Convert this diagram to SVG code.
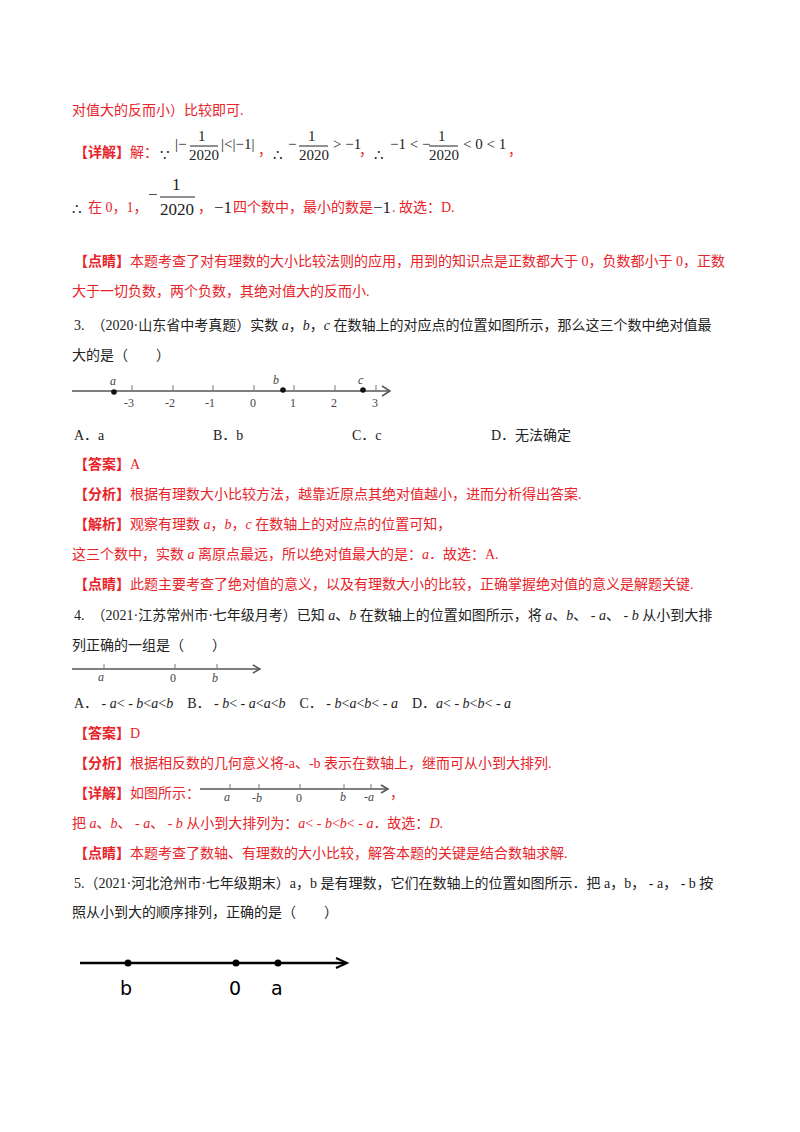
<svg xmlns="http://www.w3.org/2000/svg" width="800" height="1132" viewBox="0 0 800 1132">
<style>
text{font-family:"Liberation Serif","Noto Sans CJK SC",serif;font-size:14px;fill:#222}
.r{fill:#e8232a}
.b{font-weight:bold}
.m{font-family:"Liberation Serif",serif;font-size:15px;fill:#222}
.i{font-style:italic}
.ax{stroke:#555;stroke-width:1.5;fill:none}
.tk{stroke:#777;stroke-width:1}
.sm{font-size:12px;fill:#444}
</style>
<rect width="800" height="1132" fill="#fff"/>
<text class="r" x="72" y="115">对值大的反而小）比较即可.</text>
<text class="r" x="74" y="157"><tspan class="b">【详解】</tspan>解：</text>
<text class="m" x="160" y="160">∵</text>
<text class="m" x="175" y="149">|−</text><text class="m" x="198" y="141">1</text><line x1="190" y1="146" x2="218" y2="146" stroke="#222"/><text class="m" x="189" y="160">2020</text><text class="m" x="221" y="149">|&lt;|−1|</text>
<text class="r" x="258" y="155">，</text>
<text class="m" x="273" y="160">∴</text>
<text class="m" x="288" y="149">−</text><text class="m" x="308" y="141">1</text><line x1="299" y1="146" x2="328" y2="146" stroke="#222"/><text class="m" x="299" y="160">2020</text><text class="m" x="333" y="149">&gt; −1</text>
<text class="r" x="359" y="155">，</text>
<text class="m" x="374" y="160">∴</text>
<text class="m" x="390" y="149">−1 &lt; −</text><text class="m" x="438" y="141">1</text><line x1="429" y1="146" x2="458" y2="146" stroke="#222"/><text class="m" x="429" y="160">2020</text><text class="m" x="463" y="149">&lt; 0 &lt; 1</text>
<text class="r" x="508" y="155">，</text>
<text class="m" x="72" y="214">∴</text>
<text class="r" x="88" y="212">在 0，1，</text>
<text class="m" x="148" y="200" style="font-size:17px">−</text><text class="m" x="172" y="190" style="font-size:17px">1</text><line x1="160" y1="197" x2="195" y2="197" stroke="#222"/><text class="m" x="160" y="215" style="font-size:17px">2020</text>
<text class="r" x="198" y="212">，</text><text class="m" x="214" y="213" style="font-size:17px">−1</text>
<text class="r" x="233" y="212">四个数中，最小的数是</text><text class="m" x="373" y="213" style="font-size:17px">−1</text><text class="r" x="392" y="212">. 故选：D.</text>
<text class="r" x="74" y="266"><tspan class="b">【点睛】</tspan>本题考查了对有理数的大小比较法则的应用，用到的知识点是正数都大于 0，负数都小于 0，正数</text>
<text class="r" x="72" y="296">大于一切负数，两个负数，其绝对值大的反而小.</text>
<text x="74" y="330">3.　（2020·山东省中考真题）实数 <tspan class="i">a</tspan>，<tspan class="i">b</tspan>，<tspan class="i">c</tspan> 在数轴上的对应点的位置如图所示，那么这三个数中绝对值最</text>
<text x="72" y="360">大的是（　　）</text>
<g id="axis1">
<line class="ax" x1="72" y1="391" x2="390" y2="391"/><path class="ax" d="M382 386 L390 391 L382 396"/>
<g class="tk"><line x1="132" y1="385" x2="132" y2="391"/><line x1="173" y1="385" x2="173" y2="391"/><line x1="213" y1="385" x2="213" y2="391"/><line x1="254" y1="385" x2="254" y2="391"/><line x1="294" y1="385" x2="294" y2="391"/><line x1="335" y1="385" x2="335" y2="391"/><line x1="376" y1="385" x2="376" y2="391"/></g>
<text class="sm" x="124" y="407">-3</text><text class="sm" x="165" y="407">-2</text><text class="sm" x="205" y="407">-1</text><text class="sm" x="250" y="407">0</text><text class="sm" x="290" y="407">1</text><text class="sm" x="331" y="407">2</text><text class="sm" x="372" y="407">3</text>
<circle cx="114" cy="392" r="2.8" fill="#111"/><circle cx="283" cy="390" r="2.8" fill="#111"/><circle cx="363" cy="390" r="2.8" fill="#111"/>
<text class="sm i" x="110" y="385">a</text><text class="sm i" x="273" y="384">b</text><text class="sm i" x="358" y="384">c</text>
</g>
<text x="74" y="440">A．a</text><text x="213" y="440">B．b</text><text x="352" y="440">C．c</text><text x="491" y="440">D．无法确定</text>
<text class="r b" x="74" y="469">【答案】<tspan style="font-weight:normal">A</tspan></text>
<text class="r" x="74" y="499"><tspan class="b">【分析】</tspan>根据有理数大小比较方法，越靠近原点其绝对值越小，进而分析得出答案.</text>
<text class="r" x="74" y="529"><tspan class="b">【解析】</tspan>观察有理数 <tspan class="i">a</tspan>，<tspan class="i">b</tspan>，<tspan class="i">c</tspan> 在数轴上的对应点的位置可知，</text>
<text class="r" x="72" y="559">这三个数中，实数 <tspan class="i">a</tspan> 离原点最远，所以绝对值最大的是：<tspan class="i">a</tspan>．故选：A.</text>
<text class="r" x="74" y="589"><tspan class="b">【点睛】</tspan>此题主要考查了绝对值的意义，以及有理数大小的比较，正确掌握绝对值的意义是解题关键.</text>
<text x="74" y="620">4.　（2021·江苏常州市·七年级月考）已知 <tspan class="i">a</tspan>、<tspan class="i">b</tspan> 在数轴上的位置如图所示，将 <tspan class="i">a</tspan>、<tspan class="i">b</tspan>、 - <tspan class="i">a</tspan>、 - <tspan class="i">b</tspan> 从小到大排</text>
<text x="72" y="650">列正确的一组是（　　）</text>
<g id="axis2">
<line class="ax" x1="72" y1="669" x2="260" y2="669"/><path class="ax" d="M253 665 L260 669 L253 673"/>
<g class="tk"><line x1="104" y1="664" x2="104" y2="669"/><line x1="175" y1="664" x2="175" y2="669"/><line x1="217" y1="664" x2="217" y2="669"/></g>
<text class="sm i" x="98" y="681">a</text><text class="sm" x="170" y="682">0</text><text class="sm i" x="212" y="682">b</text>
</g>
<text x="74" y="708">A．  - <tspan class="i">a</tspan>&lt; - <tspan class="i">b</tspan>&lt;<tspan class="i">a</tspan>&lt;<tspan class="i">b</tspan>　B．  - <tspan class="i">b</tspan>&lt; - <tspan class="i">a</tspan>&lt;<tspan class="i">a</tspan>&lt;<tspan class="i">b</tspan>　C．  - <tspan class="i">b</tspan>&lt;<tspan class="i">a</tspan>&lt;<tspan class="i">b</tspan>&lt; - <tspan class="i">a</tspan>　D．<tspan class="i">a</tspan>&lt; - <tspan class="i">b</tspan>&lt;<tspan class="i">b</tspan>&lt; - <tspan class="i">a</tspan></text>
<text class="r b" x="74" y="738">【答案】<tspan style="font-weight:normal">D</tspan></text>
<text class="r" x="74" y="768"><tspan class="b">【分析】</tspan>根据相反数的几何意义将-a、-b 表示在数轴上，继而可从小到大排列.</text>
<text class="r" x="74" y="798"><tspan class="b">【详解】</tspan>如图所示：</text>
<g id="axis3">
<line class="ax" x1="200" y1="789" x2="388" y2="789"/><path class="ax" d="M381 785 L388 789 L381 793"/>
<g class="tk"><line x1="230" y1="784" x2="230" y2="789"/><line x1="259" y1="784" x2="259" y2="789"/><line x1="300" y1="784" x2="300" y2="789"/><line x1="344" y1="784" x2="344" y2="789"/><line x1="371" y1="784" x2="371" y2="789"/></g>
<text class="sm i" x="224" y="801">a</text><text class="sm i" x="252" y="802">-b</text><text class="sm" x="296" y="802">0</text><text class="sm i" x="340" y="801">b</text><text class="sm i" x="364" y="801">-a</text>
</g>
<text class="r" x="390" y="798">，</text>
<text class="r" x="72" y="828">把 <tspan class="i">a</tspan>、<tspan class="i">b</tspan>、 - <tspan class="i">a</tspan>、 - <tspan class="i">b</tspan> 从小到大排列为：<tspan class="i">a</tspan>&lt; - <tspan class="i">b</tspan>&lt;<tspan class="i">b</tspan>&lt; - <tspan class="i">a</tspan>．故选：<tspan class="i">D</tspan>.</text>
<text class="r" x="74" y="858"><tspan class="b">【点睛】</tspan>本题考查了数轴、有理数的大小比较，解答本题的关键是结合数轴求解.</text>
<text x="74" y="888">5.（2021·河北沧州市·七年级期末）a，b 是有理数，它们在数轴上的位置如图所示．把 a，b， - a， - b 按</text>
<text x="72" y="917">照从小到大的顺序排列，正确的是（　　）</text>
<g id="axis4">
<line x1="80" y1="963" x2="346" y2="963" stroke="#000" stroke-width="2.5"/><path d="M336 958 L347 963 L336 968" stroke="#000" stroke-width="2" fill="none"/>
<circle cx="128" cy="963" r="3.5" fill="#000"/><circle cx="236" cy="963" r="3.5" fill="#000"/><circle cx="278" cy="963" r="3.5" fill="#000"/>
<text x="120" y="995" style="font-family:'DejaVu Sans',sans-serif;font-size:19px;fill:#000">b</text>
<text x="229" y="995" style="font-family:'DejaVu Sans',sans-serif;font-size:19px;fill:#000">0</text>
<text x="271" y="995" style="font-family:'DejaVu Sans',sans-serif;font-size:19px;fill:#000">a</text>
</g>
</svg>
